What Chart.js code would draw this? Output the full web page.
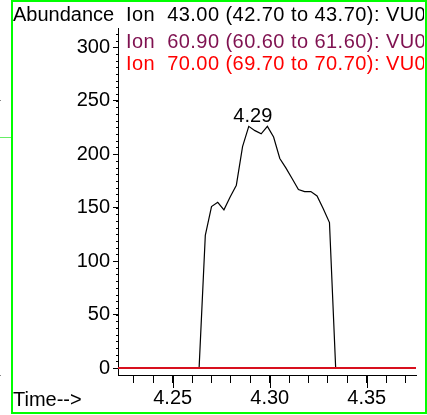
<!DOCTYPE html>
<html><head><meta charset="utf-8">
<script src="https://cdn.jsdelivr.net/npm/chart.js@4/dist/chart.umd.min.js"></script>
<style>
html,body{margin:0;padding:0;background:#fff;overflow:hidden}
#wrap{position:relative;width:427px;height:415px}
canvas{position:absolute;left:0;top:0}
.t{position:absolute;font-family:"Liberation Sans",Arial,sans-serif;font-size:20px;white-space:pre;line-height:20px}
.ion{letter-spacing:0.45px}
#hdr{position:absolute;left:0;top:0;width:424px;height:80px;overflow:hidden}
</style></head><body>
<div id="wrap">
<canvas id="c" width="427" height="415"></canvas>
<div id="hdr">
 <div class="t" style="left:13px;top:4px;color:#000">Abundance</div>
 <div class="t ion" style="left:126px;top:4px;color:#000" id="l1"></div>
 <div class="t ion" style="left:126px;top:31px;color:#7f1150" id="l2"></div>
 <div class="t ion" style="left:126px;top:53px;color:#ff0000" id="l3"></div>
</div>
<div class="t" style="left:13px;top:389px;color:#000">Time--&gt;</div>
</div>
<script>
// ---- data ----
const ionLabels = [
  'Ion  43.00 (42.70 to 43.70): VU0',
  'Ion  60.90 (60.60 to 61.60): VU0',
  'Ion  70.00 (69.70 to 70.70): VU0'
];
const times43 = [4.2218, 4.2636, 4.2668, 4.2700, 4.2732, 4.2764, 4.2796, 4.2828, 4.2860, 4.2892, 4.2924,
  4.2956, 4.2988, 4.3020, 4.3052, 4.3084, 4.3116, 4.3148, 4.3180, 4.3212, 4.3244, 4.3276, 4.3308, 4.3340, 4.3754];
const abundance43 = [0, 0, 124, 151, 155, 148, 160, 171, 207, 226, 222,
  219, 226, 216, 196, 187, 177, 167, 165, 165, 161, 149, 136, 0, 0];
const timesBase = [4.2218, 4.3754];
const abundance609 = [0, 0];
const abundance70 = [0, 0];
const yTickValues = [0, 50, 100, 150, 200, 250, 300];
const xTickLabels = ['4.25', '4.30', '4.35'];
const peakTime = 4.2913, peakValue = 226, peakText = '4.29';

document.getElementById('l1').textContent = ionLabels[0];
document.getElementById('l2').textContent = ionLabels[1];
document.getElementById('l3').textContent = ionLabels[2];

const FONT = '"Liberation Sans", Arial, sans-serif';
const pts = (xs, ys) => xs.map((x, i) => ({x, y: ys[i]}));

const decor = {
  id: 'decor',
  afterDraw(chart) {
    const ctx = chart.ctx, xs = chart.scales.x, ys = chart.scales.y;
    ctx.save();
    ctx.strokeStyle = '#000'; ctx.lineWidth = 1;
    const yb = chart.chartArea.bottom;
    xTickLabels.forEach(l => {
      const px = Math.round(xs.getPixelForValue(parseFloat(l))) + 0.5;
      ctx.beginPath(); ctx.moveTo(px, yb); ctx.lineTo(px, yb + 13); ctx.stroke();
    });
    const xl = chart.chartArea.left;
    for (let v = 0; v <= ys.max; v += 6.25) {
      const py = Math.round(ys.getPixelForValue(v)) + 0.5;
      ctx.beginPath(); ctx.moveTo(xl - 2, py); ctx.lineTo(xl, py); ctx.stroke();
    }
    ctx.fillStyle = '#000';
    ctx.font = '20px ' + FONT;
    ctx.textAlign = 'center'; ctx.textBaseline = 'alphabetic';
    ctx.fillText(peakText, xs.getPixelForValue(peakTime), ys.getPixelForValue(peakValue) - 4);
    ctx.fillStyle = '#00ff00';
    ctx.fillRect(11, 0, 2, 414);
    ctx.fillRect(11, 0, 416, 2);
    ctx.fillRect(425, 0, 2, 414);
    ctx.fillRect(11, 412, 416, 2);
    ctx.fillStyle = '#66ee66';
    ctx.fillRect(0, 137, 11, 1);
    ctx.fillStyle = '#888';
    ctx.fillRect(0, 100, 1, 1);
    ctx.fillRect(0, 375, 1, 1);
    ctx.restore();
  }
};

new Chart(document.getElementById('c'), {
  type: 'line',
  data: {
    datasets: [
      {data: pts(timesBase, abundance70), borderColor: '#d8101e', borderWidth: 2, pointRadius: 0, tension: 0},
      {data: pts(timesBase, abundance609), borderColor: '#7f1150', borderWidth: 1, pointRadius: 0, tension: 0},
      {data: pts(times43, abundance43), borderColor: '#000', borderWidth: 1.2, pointRadius: 0, tension: 0}
    ]
  },
  plugins: [decor],
  options: {
    responsive: false, animation: false, devicePixelRatio: 1,
    layout: {padding: {left: 0, right: 11, top: 28, bottom: 0}},
    plugins: {legend: {display: false}, tooltip: {enabled: false}},
    scales: {
      x: {
        type: 'linear', position: 'bottom', min: 4.2218, max: 4.3754,
        border: {display: true, color: '#000', width: 1},
        grid: {display: true, drawOnChartArea: false, drawTicks: true, tickLength: 8, tickColor: '#000', tickWidth: 1},
        ticks: {
          stepSize: 0.01, includeBounds: false, autoSkip: false, maxRotation: 0, minRotation: 0,
          color: '#000', font: {family: FONT, size: 20}, padding: 3,
          callback: v => { const s = (+v).toFixed(2); return xTickLabels.includes(s) ? s : ''; }
        },
        afterFit: s => { s.height = 40; }
      },
      y: {
        type: 'linear', position: 'left', min: -6.5, max: 318,
        border: {display: true, color: '#000', width: 1},
        grid: {display: true, drawOnChartArea: false, drawTicks: true, tickLength: 5, tickColor: '#000', tickWidth: 1},
        ticks: {
          stepSize: 50, includeBounds: false, autoSkip: false,
          color: '#000', font: {family: FONT, size: 20}, padding: 3,
          callback: v => yTickValues.includes(Math.round(v)) && Math.abs(v - Math.round(v)) < 1e-6 ? String(Math.round(v)) : ''
        },
        afterFit: s => { s.width = 118; }
      }
    }
  }
});
</script>
</body></html>
